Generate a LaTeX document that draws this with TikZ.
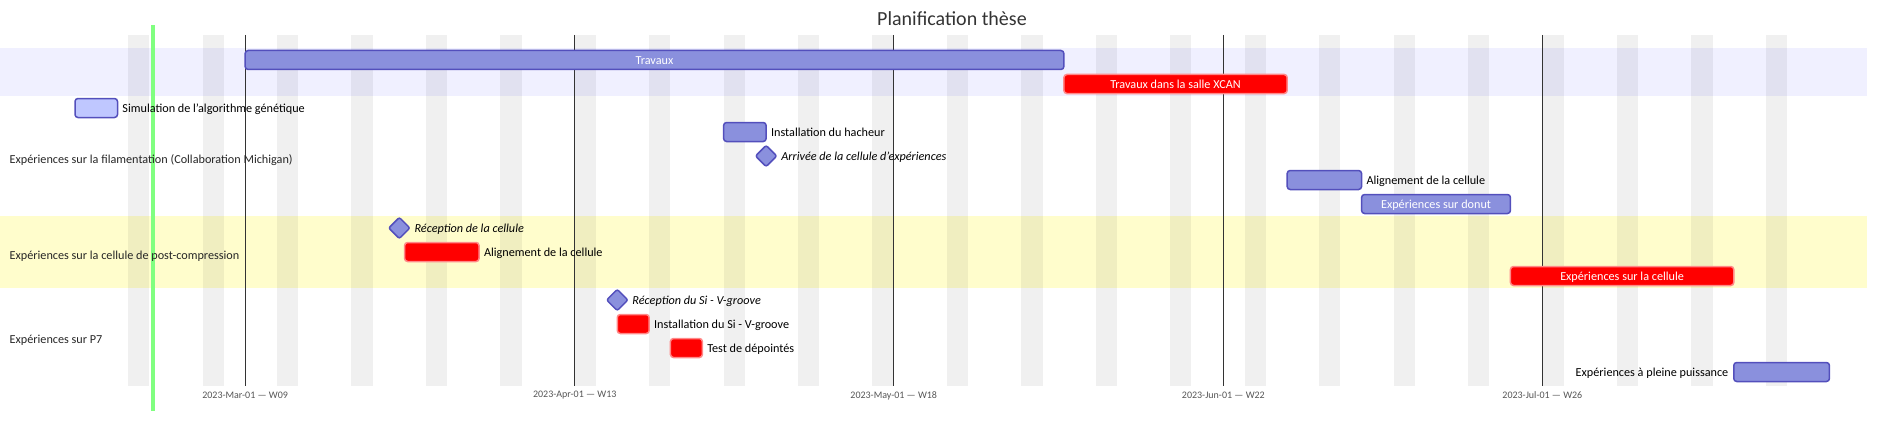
\documentclass[tikz,border=0pt]{standalone}
\usepackage{fontspec}
\setmainfont{Carlito}
\definecolor{taskbg}{HTML}{8A90DD}
\definecolor{taskbd}{HTML}{534FBC}
\definecolor{activebg}{HTML}{BFC7FF}
\definecolor{critbg}{HTML}{FF0000}
\definecolor{critbd}{HTML}{FF8888}
\definecolor{secA}{HTML}{F0F0FF}
\definecolor{secC}{HTML}{FFFDCC}
\definecolor{todaycol}{HTML}{80FF80}
\definecolor{titlecol}{HTML}{333333}
\definecolor{tickcol}{HTML}{555555}
\def\dayw{10.633}
\newcommand\gtask[6]{\node[#2, minimum width={(#4-#3)*\dayw pt}] (#1) at ({75+(#3+#4)/2*\dayw},{60+24*#5}) {#6};}
\newcommand\gmile[3]{\node[mile] (#1) at ({75+#2*\dayw},{60+24*#3}) {};}
\begin{document}
\begin{tikzpicture}[x=1pt,y=-1pt,
  taskfont/.style={font=\fontsize{12.2}{14}\selectfont, text height=9.6pt, text depth=0pt},
  bar/.style={draw=taskbd, fill=taskbg, line width=1.5pt, rounded corners=3pt, minimum height=19pt, inner sep=0pt, text=white, taskfont},
  activebar/.style={bar, fill=activebg},
  critbar/.style={bar, draw=critbd, fill=critbg},
  mile/.style={draw=taskbd, fill=taskbg, line width=1.5pt, rounded corners=2pt, minimum size=15pt, inner sep=0pt, rotate=45},
  otext/.style={inner sep=0pt, text=black, taskfont},
  mtext/.style={otext, font=\fontsize{12.2}{14}\selectfont\itshape},
  seclabel/.style={inner sep=0pt, anchor=west, text=black!85, taskfont},
  ticklabel/.style={inner sep=0pt, text=tickcol, font=\fontsize{10}{12}\selectfont},
  gridline/.style={draw=black!80, line width=0.8pt},
  weekend/.style={fill=black, fill opacity=0.06},
]
\useasboundingbox (0,0) rectangle (1904,436);
% section bands
\fill[secA] (0,48) rectangle (1866.5,96);
\fill[secC] (0,216) rectangle (1866.5,288);
% weekend stripes
\foreach \k in {0,...,22}
  \fill[weekend] ({75+(5+7*\k)*\dayw},35) rectangle ++({2*\dayw},350.7);
% month grid lines and tick labels
\foreach \d/\lab [count=\i] in {16/2023-Mar-01 — W09, 47/2023-Apr-01 — W13, 77/2023-May-01 — W18, 108/2023-Jun-01 — W22, 138/2023-Jul-01 — W26}{
  \draw[gridline] ({75+\d*\dayw},35) -- ({75+\d*\dayw},385.7);
  \node[ticklabel] (tick\i) at ({75+\d*\dayw},395.5) {\lab};
}
% today line
\fill[todaycol] (150.6,25) rectangle (155.2,410.7);
% title
\node[text=titlecol, font=\fontsize{20}{24}\selectfont, inner sep=0pt] (title) at (952,18.5) {Planification thèse};
% section labels
\node[seclabel] (sec2) at (9.5,158.5) {Expériences sur la filamentation (Collaboration Michigan)};
\node[seclabel] (sec3) at (9.5,254.5) {Expériences sur la cellule de post-compression};
\node[seclabel] (sec4) at (9.5,338.5) {Expériences sur P7};
% tasks
\gtask{travaux}{bar}{16}{93}{0}{Travaux}
\gtask{xcan}{critbar}{93}{114}{1}{Travaux dans la salle XCAN}
\gtask{sim}{activebar}{0}{4}{2}{}
\node[otext, anchor=west] (simT) at ([xshift=4pt]sim.east) {Simulation de l'algorithme génétique};
\gtask{hacheur}{bar}{61}{65}{3}{}
\node[otext, anchor=west] (hacheurT) at ([xshift=4pt]hacheur.east) {Installation du hacheur};
\gmile{arrivee}{65}{4}
\node[mtext, anchor=west] (arriveeT) at ([xshift=15pt]arrivee.center) {Arrivée de la cellule d'expériences};
\gtask{alignA}{bar}{114}{121}{5}{}
\node[otext, anchor=west] (alignAT) at ([xshift=4pt]alignA.east) {Alignement de la cellule};
\gtask{donut}{bar}{121}{135}{6}{Expériences sur donut}
\gmile{reccell}{30.5}{7}
\node[mtext, anchor=west] (reccellT) at ([xshift=15pt]reccell.center) {Réception de la cellule};
\gtask{alignB}{critbar}{31}{38}{8}{}
\node[otext, anchor=west] (alignBT) at ([xshift=4pt]alignB.east) {Alignement de la cellule};
\gtask{expcell}{critbar}{135}{156}{9}{Expériences sur la cellule}
\gmile{recsi}{51}{10}
\node[mtext, anchor=west] (recsiT) at ([xshift=15pt]recsi.center) {Réception du Si - V-groove};
\gtask{instsi}{critbar}{51}{54}{11}{}
\node[otext, anchor=west] (instsiT) at ([xshift=4pt]instsi.east) {Installation du Si - V-groove};
\gtask{test}{critbar}{56}{59}{12}{}
\node[otext, anchor=west] (testT) at ([xshift=4pt]test.east) {Test de dépointés};
\gtask{pleine}{bar}{156}{165}{13}{}
\node[otext, anchor=east] (pleineT) at ([xshift=-4.5pt]pleine.west) {Expériences à pleine puissance};
\end{tikzpicture}
\end{document}
